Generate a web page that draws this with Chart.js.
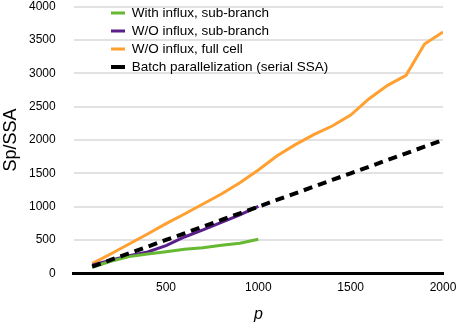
<!DOCTYPE html>
<html>
<head>
<meta charset="utf-8">
<script src="https://cdn.jsdelivr.net/npm/chart.js@4"></script>
<style>
html,body{margin:0;padding:0;background:#fff;}
#wrap{width:461px;height:326px;position:relative;}
</style>
</head>
<body>
<div id="wrap"><canvas id="c"></canvas></div>
<script>
// ---- data ----
const seriesNames = ["With influx, sub-branch", "W/O influx, sub-branch", "W/O influx, full cell", "Batch parallelization (serial SSA)"];
const pShort = [100, 200, 300, 400, 500, 600, 700, 800, 900, 1000];
const pLong = [100, 200, 300, 400, 500, 600, 700, 800, 900, 1000, 1100, 1200, 1300, 1400, 1500, 1600, 1700, 1800, 1900, 2000];
const withInfluxSub = [90, 180, 250, 290, 325, 360, 385, 420, 450, 510];
const woInfluxSub = [120, 195, 265, 320, 415, 545, 650, 765, 875, 1005];
const woInfluxFull = [145, 290, 440, 590, 745, 890, 1040, 1190, 1360, 1550, 1760, 1930, 2080, 2210, 2375, 2620, 2820, 2970, 3440, 3620];
const batchSerial = [100, 200, 300, 400, 500, 600, 700, 800, 900, 1000, 1100, 1200, 1300, 1400, 1500, 1600, 1700, 1800, 1900, 2000];
const xTicks = [500, 1000, 1500, 2000];
const yTicks = [0, 500, 1000, 1500, 2000, 2500, 3000, 3500, 4000];

const pts = (xs, ys) => xs.map((x, i) => ({x: x, y: ys[i]}));

Chart.defaults.font.family = "'Liberation Sans', Arial, Helvetica, sans-serif";
Chart.defaults.color = '#000';

const legendPlace = {
  id: 'legendPlace',
  afterLayout(chart) {
    const lg = chart.legend;
    if (!lg) return;
    lg.left = 106.5; lg.right = lg.left + lg.width;
    lg.top = 1.75; lg.bottom = lg.top + lg.height;
  }
};

new Chart(document.getElementById('c'), {
  type: 'line',
  data: {
    datasets: [
      {label: seriesNames[0], data: pts(pShort, withInfluxSub), borderColor: '#67b832', backgroundColor: '#67b832', borderWidth: 3, order: 1},
      {label: seriesNames[1], data: pts(pShort, woInfluxSub), borderColor: '#5b1f8c', backgroundColor: '#5b1f8c', borderWidth: 3, order: 2},
      {label: seriesNames[2], data: pts(pLong, woInfluxFull), borderColor: '#ffa030', backgroundColor: '#ffa030', borderWidth: 3, order: 3},
      {label: seriesNames[3], data: pts(pLong, batchSerial), borderColor: '#000', backgroundColor: '#000', borderWidth: 4, borderDash: [9, 6], order: 0}
    ]
  },
  options: {
    responsive: true,
    maintainAspectRatio: false,
    animation: false,
    layout: {padding: {left: 0, right: 18, top: 0, bottom: 0}},
    elements: {point: {radius: 0, hoverRadius: 0}, line: {tension: 0}},
    plugins: {
      tooltip: {enabled: false},
      legend: {
        position: 'chartArea',
        fullSize: false,
        align: 'start',
        labels: {
          usePointStyle: true,
          pointStyle: 'line',
          pointStyleWidth: 14,
          padding: 4.5,
          font: {size: 13.5},
          color: '#000',
          sort: (a, b) => a.datasetIndex - b.datasetIndex,
          generateLabels(chart) {
            const items = Chart.defaults.plugins.legend.labels.generateLabels(chart);
            items.forEach(it => { if (it.lineDash && it.lineDash.length) it.lineDash = [5, 4]; });
            return items;
          }
        }
      }
    },
    scales: {
      x: {
        type: 'linear',
        min: 0, max: 2000,
        afterBuildTicks(axis) { axis.ticks = xTicks.map(v => ({value: v})); },
        afterFit(scale) { scale.height = 52.7; scale.paddingLeft = 0; scale.paddingRight = 0; },
        grid: {display: false, drawTicks: false},
        border: {display: true, color: '#000', width: 3},
        ticks: {font: {size: 12}, padding: 7, color: '#000', maxRotation: 0, callback: v => String(v)},
        title: {display: true, text: 'p', font: {size: 16, style: 'italic'}, padding: {top: 9, bottom: 1.5}, color: '#000'}
      },
      y: {
        min: 0, max: 4000,
        afterBuildTicks(axis) { axis.ticks = yTicks.map(v => ({value: v})); },
        afterFit(scale) { scale.width = 73.7; scale.paddingTop = 6.7; scale.paddingBottom = 0; },
        grid: {color: '#e2e2e2', lineWidth: 2, drawTicks: false},
        border: {display: false},
        ticks: {font: {size: 12}, padding: 18, color: '#000', callback: v => String(v)},
        title: {display: true, text: 'Sp/SSA', font: {size: 18}, padding: {top: 0, bottom: 6}, color: '#000'}
      }
    }
  },
  plugins: [legendPlace]
});
</script>
</body>
</html>
